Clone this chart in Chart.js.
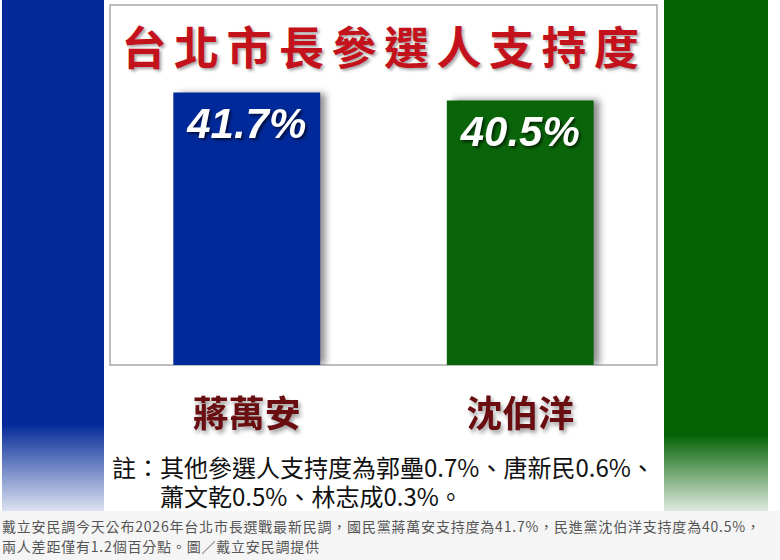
<!DOCTYPE html>
<html>
<head>
<meta charset="utf-8">
<script src="https://cdn.jsdelivr.net/npm/chart.js@4"></script>
<style>
  body { margin: 0; background: #fff; }
  #page { position: relative; width: 780px; height: 560px; overflow: hidden; background: #fff; }
  .band { position: absolute; top: 0; height: 511px; }
  #blueBand { left: 2px; width: 102px; background: linear-gradient(to bottom, #032a98 0%, #032a98 83%, #dde2f2 100%); }
  #greenBand { left: 664px; width: 104px; background: linear-gradient(to bottom, #046304 0%, #046304 85%, #dfeadf 100%); }
  #title {
    position: absolute; left: 104px; width: 560px; top: 13px; text-align: center;
    font-family: "Noto Sans CJK TC", sans-serif; font-weight: 700; font-size: 45px;
    letter-spacing: 7.5px; color: #c3121b; text-shadow: 2px 2px 3px rgba(0,0,0,0.35);
  }
  .note {
    position: absolute; font-family: "Noto Sans CJK TC", sans-serif; font-size: 24px;
    color: #111; white-space: nowrap;
  }
  #caption {
    position: absolute; left: 0; top: 511px; width: 780px; height: 49px; background: #f5f5f5;
  }
  #caption div {
    position: absolute; left: 2px; font-family: "Noto Sans CJK TC", sans-serif; font-size: 14px;
    letter-spacing: 0.8px; color: #555; white-space: nowrap;
  }
  canvas { position: absolute; left: 0; top: 0; }
</style>
</head>
<body>
<div id="page">
  <div class="band" id="blueBand"></div>
  <div class="band" id="greenBand"></div>
  <div id="title">台北市長參選人支持度</div>
  <div class="note" style="left:112px; top:449px;">註：其他參選人支持度為郭壘0.7%、唐新民0.6%、</div>
  <div class="note" style="left:160px; top:478px;">蕭文乾0.5%、林志成0.3%。</div>
  <div id="caption">
    <div style="top:5px;">戴立安民調今天公布2026年台北市長選戰最新民調，國民黨蔣萬安支持度為41.7%，民進黨沈伯洋支持度為40.5%，</div>
    <div style="top:25px;">兩人差距僅有1.2個百分點。圖／戴立安民調提供</div>
  </div>
  <canvas id="chart" width="780" height="510"></canvas>
</div>
<script>
const candidates = ["蔣萬安", "沈伯洋"];
const support = [41.7, 40.5];
const valueLabels = ["41.7%", "40.5%"];

// gray frame around the plot area
const framePlugin = {
  id: "frame",
  beforeDatasetsDraw(chart) {
    const { ctx, chartArea: a } = chart;
    ctx.save();
    ctx.strokeStyle = "#a8a8a8";
    ctx.lineWidth = 1.5;
    ctx.strokeRect(a.left, a.top, a.right - a.left, a.bottom - a.top);
    ctx.restore();
  }
};

// drop shadow on the bars
const shadowPlugin = {
  id: "barShadow",
  beforeDatasetDraw(chart) {
    const ctx = chart.ctx;
    ctx.save();
    ctx.shadowColor = "rgba(0,0,0,0.45)";
    ctx.shadowBlur = 7;
    ctx.shadowOffsetX = 6;
    ctx.shadowOffsetY = 0;
  },
  afterDatasetDraw(chart) {
    chart.ctx.restore();
  }
};

// value inside bar + candidate names below
const labelPlugin = {
  id: "labels",
  afterDatasetsDraw(chart) {
    const { ctx } = chart;
    const meta = chart.getDatasetMeta(0);
    const x = chart.scales.x;
    ctx.save();
    ctx.textAlign = "center";
    ctx.textBaseline = "middle";
    meta.data.forEach((bar, i) => {
      ctx.font = "italic bold 42px 'Liberation Sans Narrow', 'Liberation Sans', Arial, sans-serif";
      ctx.fillStyle = "#fff";
      ctx.shadowColor = "rgba(0,0,0,0.6)";
      ctx.shadowBlur = 3;
      ctx.shadowOffsetX = 2;
      ctx.shadowOffsetY = 2;
      ctx.fillText(valueLabels[i], bar.x, bar.y + 34);

      ctx.font = "bold 36px 'Noto Sans CJK TC', sans-serif";
      ctx.fillStyle = "#6a0d10";
      ctx.shadowColor = "rgba(0,0,0,0.4)";
      ctx.shadowBlur = 4;
      ctx.shadowOffsetX = 2;
      ctx.shadowOffsetY = 3;
      ctx.fillText(candidates[i], x.getPixelForValue(i), 413);
    });
    ctx.restore();
  }
};

new Chart(document.getElementById("chart"), {
  type: "bar",
  data: {
    labels: candidates,
    datasets: [{
      data: support,
      backgroundColor: ["#00299a", "#0a650a"],
      borderWidth: 0,
      barPercentage: 0.537,
      categoryPercentage: 1.0
    }]
  },
  options: {
    responsive: false,
    animation: false,
    layout: { padding: { left: 110, right: 123, top: 5, bottom: 145 } },
    plugins: { legend: { display: false }, tooltip: { enabled: false } },
    scales: {
      x: { display: false },
      y: { display: false, min: 0, max: 55.1 }
    }
  },
  plugins: [framePlugin, shadowPlugin, labelPlugin]
});
</script>
</body>
</html>
